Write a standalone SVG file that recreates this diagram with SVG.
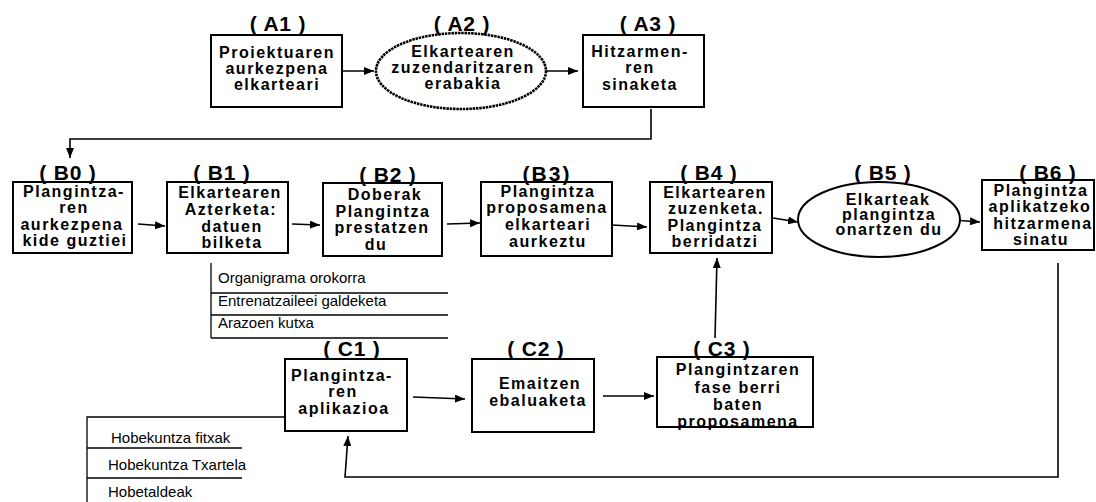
<svg xmlns="http://www.w3.org/2000/svg" width="1096" height="502" viewBox="0 0 1096 502">
<style>
.box{fill:#fff;stroke:#000;stroke-width:2}
.t{font-family:"Liberation Sans",Arial,Helvetica,sans-serif;font-weight:bold;font-size:16px;letter-spacing:1.5px;text-anchor:middle;fill:#000}
.lab{font-family:"Liberation Sans",Arial,Helvetica,sans-serif;font-weight:bold;font-size:21px;letter-spacing:0.8px;text-anchor:middle;fill:#000}
.lst{font-family:"Liberation Sans",Arial,Helvetica,sans-serif;font-size:15px;fill:#000}
.c{fill:none;stroke:#000;stroke-width:1.6}
.ln{fill:none;stroke:#000;stroke-width:1.3}
.arr{marker-end:url(#ah)}
</style>
<defs>
<marker id="ah" markerUnits="userSpaceOnUse" markerWidth="11" markerHeight="8" refX="10" refY="4" orient="auto">
<path d="M0,0 L10,4 L0,8 z" fill="#000"/>
</marker>
</defs>
<rect width="1096" height="502" fill="#fff"/>

<g id="connectors">
<line class="c arr" x1="338" y1="71" x2="374" y2="71"/>
<line class="c arr" x1="545" y1="71" x2="578" y2="71"/>
<polyline class="c arr" points="651,109 651,139 70,139 70,158"/>
<line class="c arr" x1="138" y1="224" x2="165" y2="226"/>
<line class="c arr" x1="292" y1="224" x2="320" y2="225"/>
<line class="c arr" x1="447" y1="224" x2="480" y2="223"/>
<line class="c arr" x1="612" y1="225" x2="647" y2="227"/>
<line class="c arr" x1="773" y1="218" x2="798" y2="222"/>
<line class="c arr" x1="953" y1="220" x2="980" y2="222"/>
<line class="c arr" x1="715" y1="338" x2="717" y2="258"/>
<line class="c arr" x1="413" y1="397" x2="465" y2="399"/>
<line class="c arr" x1="603" y1="396" x2="654" y2="396"/>
<polyline class="c arr" points="1058,263 1058,477 345,477 348,436"/>
<polyline class="ln" points="211,263 211,338"/>
<line class="ln" x1="211" y1="293" x2="448" y2="293"/>
<line class="ln" x1="211" y1="315" x2="448" y2="315"/>
<line class="ln" x1="211" y1="338" x2="448" y2="338"/>
<polyline class="ln" points="285,417 87,417 87,502"/>
<line class="ln" x1="87" y1="448" x2="242" y2="448"/>
<line class="ln" x1="87" y1="478" x2="242" y2="478"/>
</g>

<g id="lists">
<text class="lst" x="218" y="283">Organigrama orokorra</text>
<text class="lst" x="218" y="306">Entrenatzaileei galdeketa</text>
<text class="lst" x="218" y="328">Arazoen kutxa</text>
<text class="lst" x="111" y="443">Hobekuntza fitxak</text>
<text class="lst" x="108" y="470">Hobekuntza Txartela</text>
<text class="lst" x="108" y="497">Hobetaldeak</text>
</g>

<g id="A1">
<rect class="box" x="211" y="35" width="131" height="72"/>
<text class="lab" x="278" y="31">( A1 )</text>
<text class="t" x="277" y="58">Proiektuaren</text>
<text class="t" x="277" y="74">aurkezpena</text>
<text class="t" x="277" y="90">elkarteari</text>
</g>

<g id="A2">
<ellipse cx="461" cy="71" rx="85" ry="38" fill="#fff" stroke="#000" stroke-width="2.6" stroke-dasharray="2.5 0.8"/>
<text class="lab" x="462" y="31">( A2 )</text>
<text class="t" x="463" y="57">Elkartearen</text>
<text class="t" x="463" y="73">zuzendaritzaren</text>
<text class="t" x="463" y="89">erabakia</text>
</g>

<g id="A3">
<rect class="box" x="583" y="35" width="121" height="72"/>
<text class="lab" x="648" y="31">( A3 )</text>
<text class="t" x="640" y="57">Hitzarmen-</text>
<text class="t" x="640" y="73">ren</text>
<text class="t" x="640" y="90">sinaketa</text>
</g>

<g id="B0">
<rect class="box" x="13" y="182" width="119" height="71"/>
<text class="lab" x="68" y="180">( B0 )</text>
<text class="t" x="74" y="197">Plangintza-</text>
<text class="t" x="74" y="213">ren</text>
<text class="t" x="72" y="230">aurkezpena</text>
<text class="t" x="75" y="246">kide guztiei</text>
</g>

<g id="B1">
<rect class="box" x="167" y="182" width="121" height="71"/>
<text class="lab" x="222" y="180">( B1 )</text>
<text class="t" x="230" y="198">Elkartearen</text>
<text class="t" x="231" y="215">Azterketa:</text>
<text class="t" x="232" y="232">datuen</text>
<text class="t" x="232" y="248">bilketa</text>
</g>

<g id="B2">
<rect class="box" x="323" y="183" width="119" height="73"/>
<text class="lab" x="388" y="182">( B2 )</text>
<text class="t" x="385" y="200">Doberak</text>
<text class="t" x="383" y="217">Plangintza</text>
<text class="t" x="382" y="233">prestatzen</text>
<text class="t" x="376" y="250">du</text>
</g>

<g id="B3">
<rect class="box" x="481" y="182" width="131" height="74"/>
<text class="lab" x="547" y="181" style="letter-spacing:2px">(B3)</text>
<text class="t" x="548" y="197">Plangintza</text>
<text class="t" x="547" y="213">proposamena</text>
<text class="t" x="548" y="230">elkarteari</text>
<text class="t" x="548" y="247">aurkeztu</text>
</g>

<g id="B4">
<rect class="box" x="650" y="182" width="122" height="71"/>
<text class="lab" x="709" y="180">( B4 )</text>
<text class="t" x="715" y="198">Elkartearen</text>
<text class="t" x="716" y="214">zuzenketa.</text>
<text class="t" x="715" y="231">Plangintza</text>
<text class="t" x="715" y="247">berridatzi</text>
</g>

<g id="B5">
<ellipse cx="879" cy="219.5" rx="81" ry="37.5" fill="#fff" stroke="#000" stroke-width="2"/>
<text class="lab" x="883" y="180">( B5 )</text>
<text class="t" x="888" y="205">Elkarteak</text>
<text class="t" x="889" y="220">plangintza</text>
<text class="t" x="889" y="235">onartzen du</text>
</g>

<g id="B6">
<rect class="box" x="982" y="180" width="112" height="70"/>
<text class="lab" x="1048" y="180">( B6 )</text>
<text class="t" x="1041" y="196">Plangintza</text>
<text class="t" x="1040" y="212">aplikatzeko</text>
<text class="t" x="1043" y="229">hitzarmena</text>
<text class="t" x="1041" y="245">sinatu</text>
</g>

<g id="C1">
<rect class="box" x="285" y="359" width="122" height="72"/>
<text class="lab" x="352" y="356">( C1 )</text>
<text class="t" x="342" y="381">Plangintza-</text>
<text class="t" x="343" y="397">ren</text>
<text class="t" x="344" y="414">aplikazioa</text>
</g>

<g id="C2">
<rect class="box" x="472" y="359" width="122" height="73"/>
<text class="lab" x="536" y="356">( C2 )</text>
<text class="t" x="540" y="389">Emaitzen</text>
<text class="t" x="538" y="406">ebaluaketa</text>
</g>

<g id="C3">
<rect class="box" x="657" y="357" width="156" height="70"/>
<text class="lab" x="722" y="356">( C3 )</text>
<text class="t" x="738" y="375">Plangintzaren</text>
<text class="t" x="738" y="393">fase berri</text>
<text class="t" x="738" y="410">baten</text>
<text class="t" x="738" y="427">proposamena</text>
</g>
</svg>
